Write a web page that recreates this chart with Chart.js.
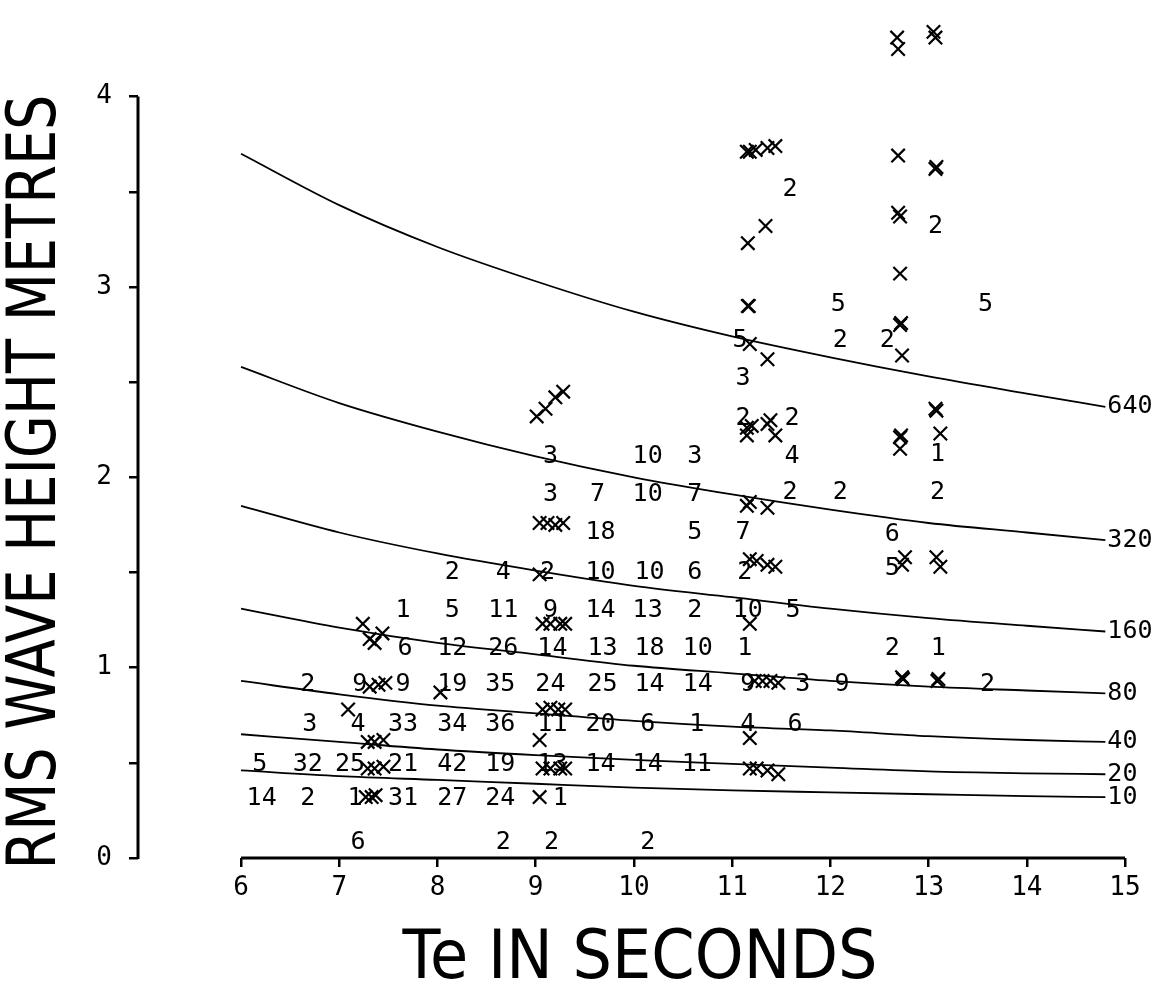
<!DOCTYPE html>
<html>
<head>
<meta charset="utf-8">
<script src="https://cdn.jsdelivr.net/npm/chart.js@4.4.1/dist/chart.umd.min.js"></script>
<style>
  html, body { margin: 0; padding: 0; background: #fff; }
  #wrap { width: 1168px; height: 1003px; }
</style>
</head>
<body>
<div id="wrap"><canvas id="waveChart" width="1168" height="1003"></canvas></div>
<script>
// Te vs RMS wave height: bin counts, single observations and power contours

const xTicks = [6, 7, 8, 9, 10, 11, 12, 13, 14, 15];
const yTicks = [0, 0.5, 1, 1.5, 2, 2.5, 3, 3.5, 4];

const curvePeriods = [6, 7, 8, 9, 10, 11, 12, 13, 14, 14.8];
const curveNames = ["640", "320", "160", "80", "40", "20", "10"];
const curve640 = [3.70, 3.43, 3.21, 3.03, 2.87, 2.74, 2.63, 2.53, 2.44, 2.37];
const curve320 = [2.58, 2.39, 2.24, 2.11, 2.00, 1.91, 1.83, 1.76, 1.71, 1.67];
const curve160 = [1.85, 1.71, 1.60, 1.51, 1.43, 1.37, 1.31, 1.26, 1.22, 1.19];
const curve80 = [1.31, 1.21, 1.13, 1.07, 1.01, 0.97, 0.93, 0.90, 0.88, 0.865];
const curve40 = [0.93, 0.86, 0.80, 0.76, 0.72, 0.69, 0.67, 0.64, 0.62, 0.61];
const curve20 = [0.65, 0.61, 0.57, 0.54, 0.515, 0.495, 0.475, 0.455, 0.445, 0.44];
const curve10 = [0.46, 0.43, 0.41, 0.39, 0.37, 0.355, 0.345, 0.335, 0.325, 0.32];
const curveHeights = [curve640, curve320, curve160, curve80, curve40, curve20, curve10];

// counts per bin: [Te, Hrms, count]
const binCounts = [
  [7.19, 0.08, "6"], [8.67, 0.08, "2"], [9.16, 0.08, "2"], [10.14, 0.08, "2"],
  [6.21, 0.31, "14"], [6.68, 0.31, "2"], [7.16, 0.31, "1"], [7.65, 0.31, "31"], [8.15, 0.31, "27"],
  [8.64, 0.31, "24"], [9.25, 0.31, "1"],
  [6.19, 0.49, "5"], [6.68, 0.49, "32"], [7.11, 0.49, "25"], [7.65, 0.49, "21"], [8.15, 0.49, "42"],
  [8.64, 0.49, "19"], [9.17, 0.49, "13"], [9.66, 0.49, "14"], [10.14, 0.49, "14"], [10.64, 0.49, "11"],
  [6.70, 0.70, "3"], [7.19, 0.70, "4"], [7.65, 0.70, "33"], [8.15, 0.70, "34"], [8.64, 0.70, "36"],
  [9.17, 0.70, "11"], [9.66, 0.70, "20"], [10.14, 0.70, "6"], [10.64, 0.70, "1"], [11.16, 0.70, "4"],
  [11.64, 0.70, "6"],
  [6.68, 0.91, "2"], [7.21, 0.91, "9"], [7.65, 0.91, "9"], [8.15, 0.91, "19"], [8.64, 0.91, "35"],
  [9.15, 0.91, "24"], [9.68, 0.91, "25"], [10.16, 0.91, "14"], [10.65, 0.91, "14"], [11.16, 0.91, "9"],
  [11.72, 0.91, "3"], [12.12, 0.91, "9"], [13.60, 0.91, "2"],
  [7.67, 1.10, "6"], [8.15, 1.10, "12"], [8.67, 1.10, "26"], [9.17, 1.10, "14"], [9.68, 1.10, "13"],
  [10.16, 1.10, "18"], [10.65, 1.10, "10"], [11.13, 1.10, "1"], [12.63, 1.10, "2"], [13.10, 1.10, "1"],
  [7.65, 1.30, "1"], [8.15, 1.30, "5"], [8.67, 1.30, "11"], [9.15, 1.30, "9"], [9.66, 1.30, "14"],
  [10.14, 1.30, "13"], [10.62, 1.30, "2"], [11.16, 1.30, "10"], [11.62, 1.30, "5"],
  [8.15, 1.50, "2"], [8.67, 1.50, "4"], [9.12, 1.50, "2"], [9.66, 1.50, "10"], [10.16, 1.50, "10"],
  [10.62, 1.50, "6"], [11.13, 1.50, "2"], [12.63, 1.52, "5"],
  [9.66, 1.71, "18"], [10.62, 1.71, "5"], [11.11, 1.71, "7"], [12.63, 1.70, "6"],
  [9.15, 1.91, "3"], [9.63, 1.91, "7"], [10.14, 1.91, "10"], [10.62, 1.91, "7"], [11.59, 1.92, "2"],
  [12.10, 1.92, "2"], [13.09, 1.92, "2"],
  [9.15, 2.11, "3"], [10.14, 2.11, "10"], [10.62, 2.11, "3"], [11.61, 2.11, "4"], [13.09, 2.12, "1"],
  [11.11, 2.31, "2"], [11.61, 2.31, "2"],
  [11.11, 2.52, "3"],
  [11.08, 2.72, "5"], [12.10, 2.72, "2"], [12.58, 2.72, "2"],
  [12.08, 2.91, "5"], [13.58, 2.91, "5"],
  [13.07, 3.32, "2"],
  [11.59, 3.51, "2"],
];

// single observations: [Te, Hrms]
const singleObs = [
  [7.24, 1.23], [7.44, 1.18], [7.31, 1.15], [7.36, 1.13],
  [7.31, 0.90], [7.40, 0.91], [7.47, 0.92], [7.09, 0.78],
  [7.29, 0.61], [7.36, 0.61], [7.45, 0.62],
  [7.29, 0.47], [7.36, 0.47], [7.45, 0.48],
  [7.27, 0.32], [7.33, 0.32], [7.37, 0.33],
  [8.03, 0.87],
  [9.01, 2.32], [9.10, 2.36], [9.20, 2.42], [9.28, 2.45],
  [9.04, 1.76], [9.12, 1.76], [9.20, 1.75], [9.28, 1.76],
  [9.04, 1.49],
  [9.07, 1.23], [9.15, 1.23], [9.25, 1.23], [9.30, 1.23],
  [9.07, 0.78], [9.15, 0.79], [9.23, 0.78], [9.30, 0.78],
  [9.04, 0.62],
  [9.07, 0.47], [9.15, 0.47], [9.25, 0.47], [9.30, 0.47],
  [9.04, 0.32],
  [11.15, 3.71], [11.18, 3.71], [11.24, 3.72], [11.36, 3.73], [11.44, 3.74],
  [11.34, 3.32], [11.16, 3.23], [11.16, 2.90], [11.17, 2.90], [11.18, 2.70], [11.36, 2.62],
  [11.15, 2.26], [11.20, 2.27], [11.15, 2.22], [11.36, 2.28], [11.39, 2.30], [11.44, 2.22],
  [11.15, 1.85], [11.18, 1.87], [11.36, 1.84],
  [11.18, 1.57], [11.25, 1.56], [11.36, 1.54], [11.44, 1.53],
  [11.18, 1.23],
  [11.23, 0.93], [11.31, 0.93], [11.39, 0.93], [11.47, 0.92],
  [11.18, 0.63],
  [11.18, 0.47], [11.25, 0.47], [11.36, 0.46], [11.47, 0.44],
  [12.68, 4.31], [12.69, 4.25], [13.05, 4.34], [13.07, 4.31],
  [12.69, 3.69], [13.07, 3.62], [13.08, 3.63],
  [12.69, 3.39], [12.71, 3.37], [12.71, 3.07],
  [12.71, 2.80], [12.72, 2.81], [12.73, 2.64],
  [13.07, 2.36], [13.08, 2.35],
  [12.71, 2.21], [12.72, 2.22], [12.71, 2.15], [13.12, 2.23],
  [12.76, 1.58], [12.73, 1.54], [13.08, 1.58], [13.12, 1.53],
  [12.73, 0.95], [12.74, 0.94], [13.09, 0.93], [13.10, 0.94],
];

const ink = "#000";
const monoFont = "DejaVu Sans Mono";

// count numbers and contour names, placed through the scales
const textLayer = {
  id: "textLayer",
  afterDatasetsDraw(chart) {
    const { ctx, scales: { x, y } } = chart;
    ctx.save();
    ctx.fillStyle = ink;
    ctx.font = "25px '" + monoFont + "'";
    ctx.textAlign = "center";
    ctx.textBaseline = "middle";
    binCounts.forEach(([te, h, n]) => {
      ctx.fillText(n, x.getPixelForValue(te), y.getPixelForValue(h));
    });
    ctx.textAlign = "left";
    const last = curvePeriods.length - 1;
    curveNames.forEach((name, i) => {
      ctx.fillText(name, x.getPixelForValue(curvePeriods[last]) + 2, y.getPixelForValue(curveHeights[i][last]));
    });
    ctx.restore();
  },
};

function squashedText(ctx, text, cx, cy, width, angle) {
  ctx.save();
  ctx.translate(cx, cy);
  ctx.rotate(angle);
  ctx.scale(width / ctx.measureText(text).width, 1);
  ctx.fillText(text, 0, 0);
  ctx.restore();
}

// axis lines only span the labelled range, plus the two axis titles
const axisLayer = {
  id: "axisLayer",
  afterDraw(chart) {
    const { ctx, chartArea, scales: { x, y } } = chart;
    ctx.save();
    ctx.strokeStyle = ink;
    ctx.lineWidth = 3;
    ctx.beginPath();
    ctx.moveTo(chartArea.left, y.getPixelForValue(yTicks[0]) + 1);
    ctx.lineTo(chartArea.left, y.getPixelForValue(yTicks[yTicks.length - 1]));
    ctx.moveTo(x.getPixelForValue(xTicks[0]), chartArea.bottom);
    ctx.lineTo(x.getPixelForValue(xTicks[xTicks.length - 1]), chartArea.bottom);
    ctx.stroke();

    ctx.fillStyle = ink;
    ctx.font = "67px 'DejaVu Sans'";
    ctx.textAlign = "center";
    ctx.textBaseline = "middle";
    squashedText(ctx, "RMS WAVE HEIGHT METRES", 38, 482, 775, -Math.PI / 2);
    squashedText(ctx, "Te IN SECONDS", 640, 961, 475, 0);
    ctx.restore();
  },
};

const curveSets = curveNames.map((name, i) => ({
  label: name,
  data: curvePeriods.map((t, j) => ({ x: t, y: curveHeights[i][j] })),
  showLine: true,
  borderColor: ink,
  borderWidth: 1.8,
  pointRadius: 0,
  cubicInterpolationMode: "monotone",
}));

const waveChart = new Chart(document.getElementById("waveChart"), {
  type: "scatter",
  data: {
    datasets: [
      ...curveSets,
      {
        label: "observations",
        data: singleObs.map(([t, h]) => ({ x: t, y: h })),
        pointStyle: "crossRot",
        pointRadius: 9.5,
        pointBorderWidth: 2.2,
        borderColor: ink,
        backgroundColor: ink,
      },
    ],
  },
  options: {
    responsive: false,
    animation: false,
    layout: { padding: { left: 0, top: 0, right: 43, bottom: 0 } },
    scales: {
      x: {
        type: "linear",
        min: 4.951,
        max: 15,
        afterBuildTicks: (s) => { s.ticks = xTicks.map((v) => ({ value: v })); },
        afterFit: (s) => { s.height = 145; s.paddingLeft = 0; s.paddingRight = 0; },
        border: { display: false },
        grid: { drawOnChartArea: false, drawTicks: true, tickLength: 9, lineWidth: 2.5, color: ink },
        ticks: {
          color: ink,
          padding: 6,
          autoSkip: false,
          maxRotation: 0,
          font: { family: monoFont, size: 26 },
        },
      },
      y: {
        type: "linear",
        min: 0,
        max: 4.446,
        afterBuildTicks: (s) => { s.ticks = yTicks.map((v) => ({ value: v })); },
        afterFit: (s) => { s.width = 138; s.paddingTop = 0; s.paddingBottom = 0; },
        border: { display: false },
        grid: { drawOnChartArea: false, drawTicks: true, tickLength: 9, lineWidth: 2.5, color: ink },
        ticks: {
          color: ink,
          padding: 17,
          autoSkip: false,
          font: { family: monoFont, size: 26 },
          callback: (v) => (Number.isInteger(v) ? v : ""),
        },
      },
    },
    plugins: {
      legend: { display: false },
      tooltip: { enabled: false },
    },
  },
  plugins: [textLayer, axisLayer],
});
</script>
</body>
</html>
